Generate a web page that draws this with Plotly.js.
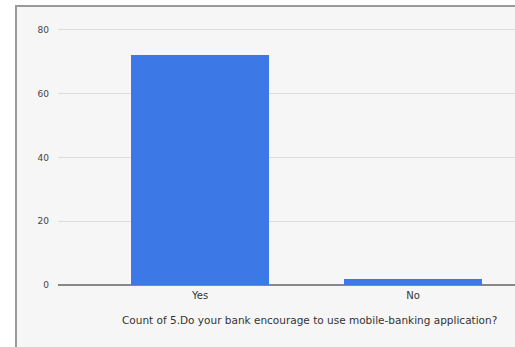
<!DOCTYPE html>
<html><head><meta charset="utf-8">
<script src="https://cdn.plot.ly/plotly-3.0.1.min.js"></script>
<style>
html,body{margin:0;padding:0;background:#fff;width:515px;height:347px;overflow:hidden;}
#frame{position:absolute;left:15px;top:5px;width:520px;height:360px;border-left:2px solid #9a9a9a;border-top:2px solid #9a9a9a;background:#f6f6f6;}
#chart{position:absolute;left:0;top:0;width:515px;height:347px;}
</style></head>
<body>
<div id="frame"></div>
<div id="chart"></div>
<script>
const categories = ["Yes", "No"];
const counts = [72, 2];
const yTicks = [0, 20, 40, 60, 80];
const xTitle = "Count of 5.Do your bank encourage to use mobile-banking application?";

Plotly.newPlot("chart", [{
  type: "bar",
  x: categories,
  y: counts,
  width: 0.645,
  marker: {color: "#3c78e6"},
  hoverinfo: "none"
}], {
  width: 515, height: 347,
  margin: {l: 58, r: 0, t: 20, b: 62},
  paper_bgcolor: "rgba(0,0,0,0)",
  plot_bgcolor: "rgba(0,0,0,0)",
  font: {family: "DejaVu Sans, Arial, sans-serif", color: "#444", size: 9},
  showlegend: false,
  bargap: 0,
  xaxis: {
    type: "category",
    range: [-0.667, 1.479],
    showgrid: false,
    showline: false,
    zeroline: false,
    ticks: "",
    ticklabelstandoff: 3,
    tickfont: {size: 10, color: "#333"}
  },
  yaxis: {
    range: [0, 83.1],
    tickvals: yTicks,
    ticktext: yTicks.map(String),
    showgrid: true,
    gridcolor: "#dcdcdc",
    gridwidth: 1,
    zeroline: true,
    zerolinecolor: "#888",
    zerolinewidth: 1.5,
    ticks: "",
    ticklabelstandoff: 8,
    tickfont: {size: 9, color: "#444"}
  },
  annotations: [{
    text: xTitle,
    xref: "paper", yref: "paper",
    x: 0.5514, y: -0.132,
    xanchor: "center", yanchor: "middle",
    showarrow: false,
    font: {size: 10.5, color: "#333"}
  }]
}, {staticPlot: true});
</script>
</body></html>
